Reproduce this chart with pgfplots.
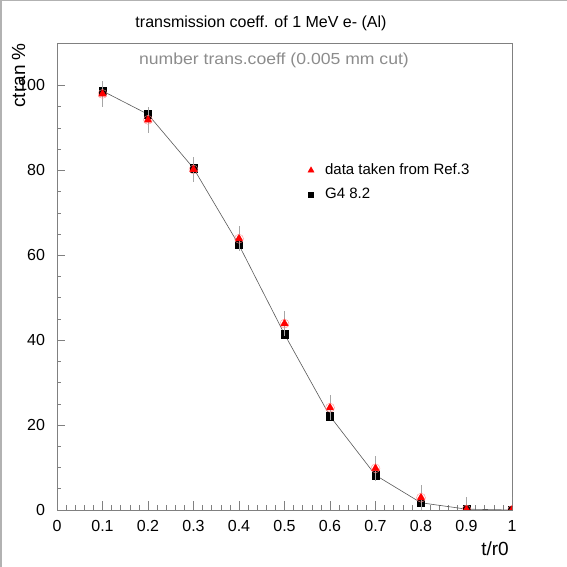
\documentclass[border=0pt]{standalone}
\usepackage{pgfplots}
\pgfplotsset{compat=1.18}
\usepackage{fontspec}
\setmainfont{Liberation Sans}
\pgfplotstableread{
x y err
0.1 98.0 3
0.2 91.9 3
0.3 80.2 3
0.4 63.9 3
0.5 43.9 3
0.6 24.1 3
0.7 9.8 3
0.8 2.9 3
0.9 0.1 3
1.0 0.0 3
}\refdata
\pgfplotstableread{
x y
0.1 98.7
0.2 93.2
0.3 80.5
0.4 62.4
0.5 41.4
0.6 22.1
0.7 8.2
0.8 1.7
0.9 0.2
1.0 0.0
}\gfourdata
\begin{document}
\fontsize{16}{19}\selectfont
\begin{tikzpicture}
\path[use as bounding box] (0pt,0pt) rectangle (567pt,567pt);
\draw[black!30, line width=1.5pt] (0.75pt,0pt) -- (0.75pt,566.25pt) -- (567pt,566.25pt);
\begin{axis}[
  at={(57pt,57pt)}, anchor=south west,
  width=455pt, height=467pt, scale only axis,
  xmin=0, xmax=1, ymin=0, ymax=110,
  axis line style={black!50, line width=0.6pt},
  tick style={black!50, line width=0.6pt},
  tick align=inside, tick pos=left,
  major tick length=8.5pt, minor tick length=4.5pt,
  xtick={0,0.1,0.2,0.3,0.4,0.5,0.6,0.7,0.8,0.9,1},
  minor x tick num=4,
  ytick={0,20,40,60,80,100}, minor y tick num=3,
  /pgf/number format/assume math mode=true,
  ticklabel style={font=\fontsize{16}{19}\selectfont},
  xticklabel style={yshift=-5pt},
  yticklabel style={xshift=-6.5pt},
  clip marker paths=true,
  legend cell align=left,
  legend image code/.code={\draw[#1] plot coordinates {(0pt,0pt)};},
  legend style={at={(0.551,0.746)}, anchor=north west, draw=none, fill=none,
    font=\fontsize{15}{18}\selectfont, row sep=7.3pt, column sep=9pt, inner sep=0pt,
    nodes={inner sep=2pt}},
]
\addlegendimage{only marks, mark=triangle*, mark size=3.6pt, red, mark options={draw=red, fill=red}}
\addlegendentry{data taken from Ref.3}
\addlegendimage{only marks, mark=square*, mark size=2.5pt, black}
\addlegendentry{G4 8.2}
\addplot[forget plot, black!65, line width=0.6pt, mark=square*, mark size=3.65pt,
  mark options={draw=black, fill=black}] table[x=x, y=y] {\gfourdata};
\addplot[forget plot, only marks, mark=triangle*, mark size=4.5pt,
  mark options={draw=red, fill=red},
  error bars/.cd, y dir=both, y explicit, error mark=none,
  error bar style={black!35, line width=0.6pt}]
  table[x=x, y=y, y error=err] {\refdata};
\addplot[forget plot, only marks, mark=o, mark size=4.5pt,
  mark options={draw=red!45, line width=0.4pt}] table[x=x, y=y] {\refdata};
\end{axis}
\node[anchor=base, inner sep=0pt] at (261pt,539pt) {transmission coeff. of 1 MeV e- (Al)};
\node[anchor=base, inner sep=0pt, text=black!45] at (274pt,502pt) {\scalebox{1.1}[1]{number trans.coeff (0.005 mm cut)}};
\node[rotate=90, anchor=base east, inner sep=0pt, font=\fontsize{19}{22}\selectfont] at (25pt,524pt) {ctran \%};
\node[anchor=base east, inner sep=0pt, font=\fontsize{19}{22}\selectfont] at (509pt,11pt) {t/r0};
\end{tikzpicture}
\end{document}
